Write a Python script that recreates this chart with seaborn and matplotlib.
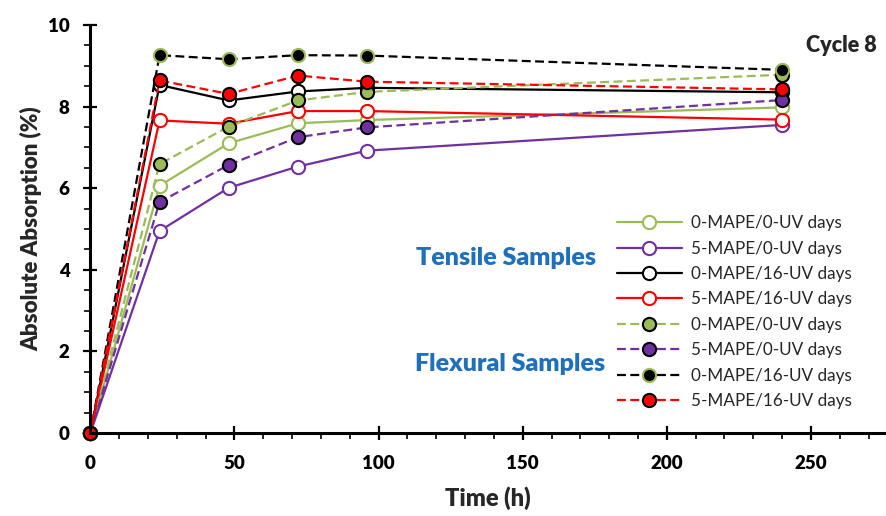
import matplotlib
matplotlib.use("Agg")
import matplotlib.pyplot as plt
from matplotlib.ticker import MultipleLocator
import seaborn as sns
import pandas as pd

sns.set_theme(style="white")
plt.rcParams["font.family"] = ["Lato", "DejaVu Sans"]

# Immersion times (h)
time_h = [0, 24, 48, 72, 96, 240]

# Tensile samples
t_0mape_0uv = [0, 6.06, 7.10, 7.59, 7.67, 7.98]
t_5mape_0uv = [0, 4.95, 6.01, 6.53, 6.92, 7.55]
t_0mape_16uv = [0, 8.53, 8.15, 8.37, 8.46, 8.35]
t_5mape_16uv = [0, 7.66, 7.58, 7.89, 7.89, 7.68]

# Flexural samples
f_0mape_0uv = [0, 6.59, 7.51, 8.15, 8.36, 8.78]
f_5mape_0uv = [0, 5.66, 6.57, 7.25, 7.49, 8.16]
f_0mape_16uv = [0, 9.26, 9.16, 9.26, 9.25, 8.90]
f_5mape_16uv = [0, 8.64, 8.31, 8.76, 8.61, 8.42]

labels = ["0-MAPE/0-UV days", "5-MAPE/0-UV days",
          "0-MAPE/16-UV days", "5-MAPE/16-UV days"]

GREEN = "#9BBB59"
PURPLE = "#7030A0"
RED = "#FF0000"
BLACK = "#000000"
HEAVY = "heavy"

fig = plt.figure(figsize=(8.86, 5.16), dpi=100)
ax = fig.add_axes([0.102, 0.1609, 0.8978, 0.7907])

# (values, label, line colour, marker face, marker edge, dashed)
series = [
    (t_0mape_0uv, labels[0], GREEN, "white", GREEN, False),
    (t_5mape_0uv, labels[1], PURPLE, "white", PURPLE, False),
    (t_0mape_16uv, labels[2], BLACK, "white", BLACK, False),
    (t_5mape_16uv, labels[3], RED, "white", RED, False),
    (f_0mape_0uv, labels[0], GREEN, GREEN, BLACK, True),
    (f_5mape_0uv, labels[1], PURPLE, PURPLE, BLACK, True),
    (f_0mape_16uv, labels[2], BLACK, BLACK, GREEN, True),
    (f_5mape_16uv, labels[3], RED, RED, BLACK, True),
]

for vals, lab, col, face, edge, dashed in series:
    df = pd.DataFrame({"time": time_h, "abs": vals})
    kw = dict(dashes=(4, 2)) if dashed else {}
    sns.lineplot(data=df, x="time", y="abs", ax=ax, color=col, lw=1.6,
                 marker="o", markersize=9.5, markerfacecolor=face,
                 markeredgecolor=edge, markeredgewidth=1.5,
                 label=lab, clip_on=False, sort=False, **kw)

ax.set_xlim(0, 276)
ax.set_ylim(0, 10)
ax.xaxis.set_major_locator(MultipleLocator(50))
ax.xaxis.set_minor_locator(MultipleLocator(10))
ax.yaxis.set_major_locator(MultipleLocator(2))
ax.yaxis.set_minor_locator(MultipleLocator(0.5))

for side in ("top", "right"):
    ax.spines[side].set_visible(False)
for side in ("left", "bottom"):
    ax.spines[side].set_linewidth(2.2)
    ax.spines[side].set_color("black")

ax.tick_params(which="major", direction="inout", length=10, width=1.6,
               colors="black", labelsize=13.5)
ax.tick_params(which="minor", direction="out", length=4, width=1.2,
               colors="black")
ax.tick_params(axis="x", which="both", bottom=True)
ax.tick_params(axis="y", which="both", left=True)
ax.tick_params(axis="x", which="major", pad=11)
ax.tick_params(axis="y", which="major", pad=10)
for lbl in ax.get_xticklabels() + ax.get_yticklabels():
    lbl.set_fontweight(HEAVY)

ax.set_xlabel("Time (h)", fontsize=17, fontweight=HEAVY, labelpad=10)
ax.set_ylabel("Absolute Absorption (%)", fontsize=16, fontweight=HEAVY,
              labelpad=4)

ax.legend(loc="upper left", bbox_to_anchor=(0.696, 0.583),
          bbox_transform=fig.transFigure, frameon=False, fontsize=12.3,
          handlelength=3.8, handletextpad=0.58, labelspacing=0.55,
          borderpad=0, borderaxespad=0)

fig.text(0.950, 0.912, "Cycle 8", fontsize=15.5, fontweight=HEAVY,
         ha="center", va="center")
fig.text(0.571, 0.500, "Tensile Samples", fontsize=18, fontweight=HEAVY,
         color="#1F6FBF", ha="center", va="center")
fig.text(0.576, 0.294, "Flexural Samples", fontsize=18, fontweight=HEAVY,
         color="#1F6FBF", ha="center", va="center")

fig.savefig("out.png", dpi=100)
